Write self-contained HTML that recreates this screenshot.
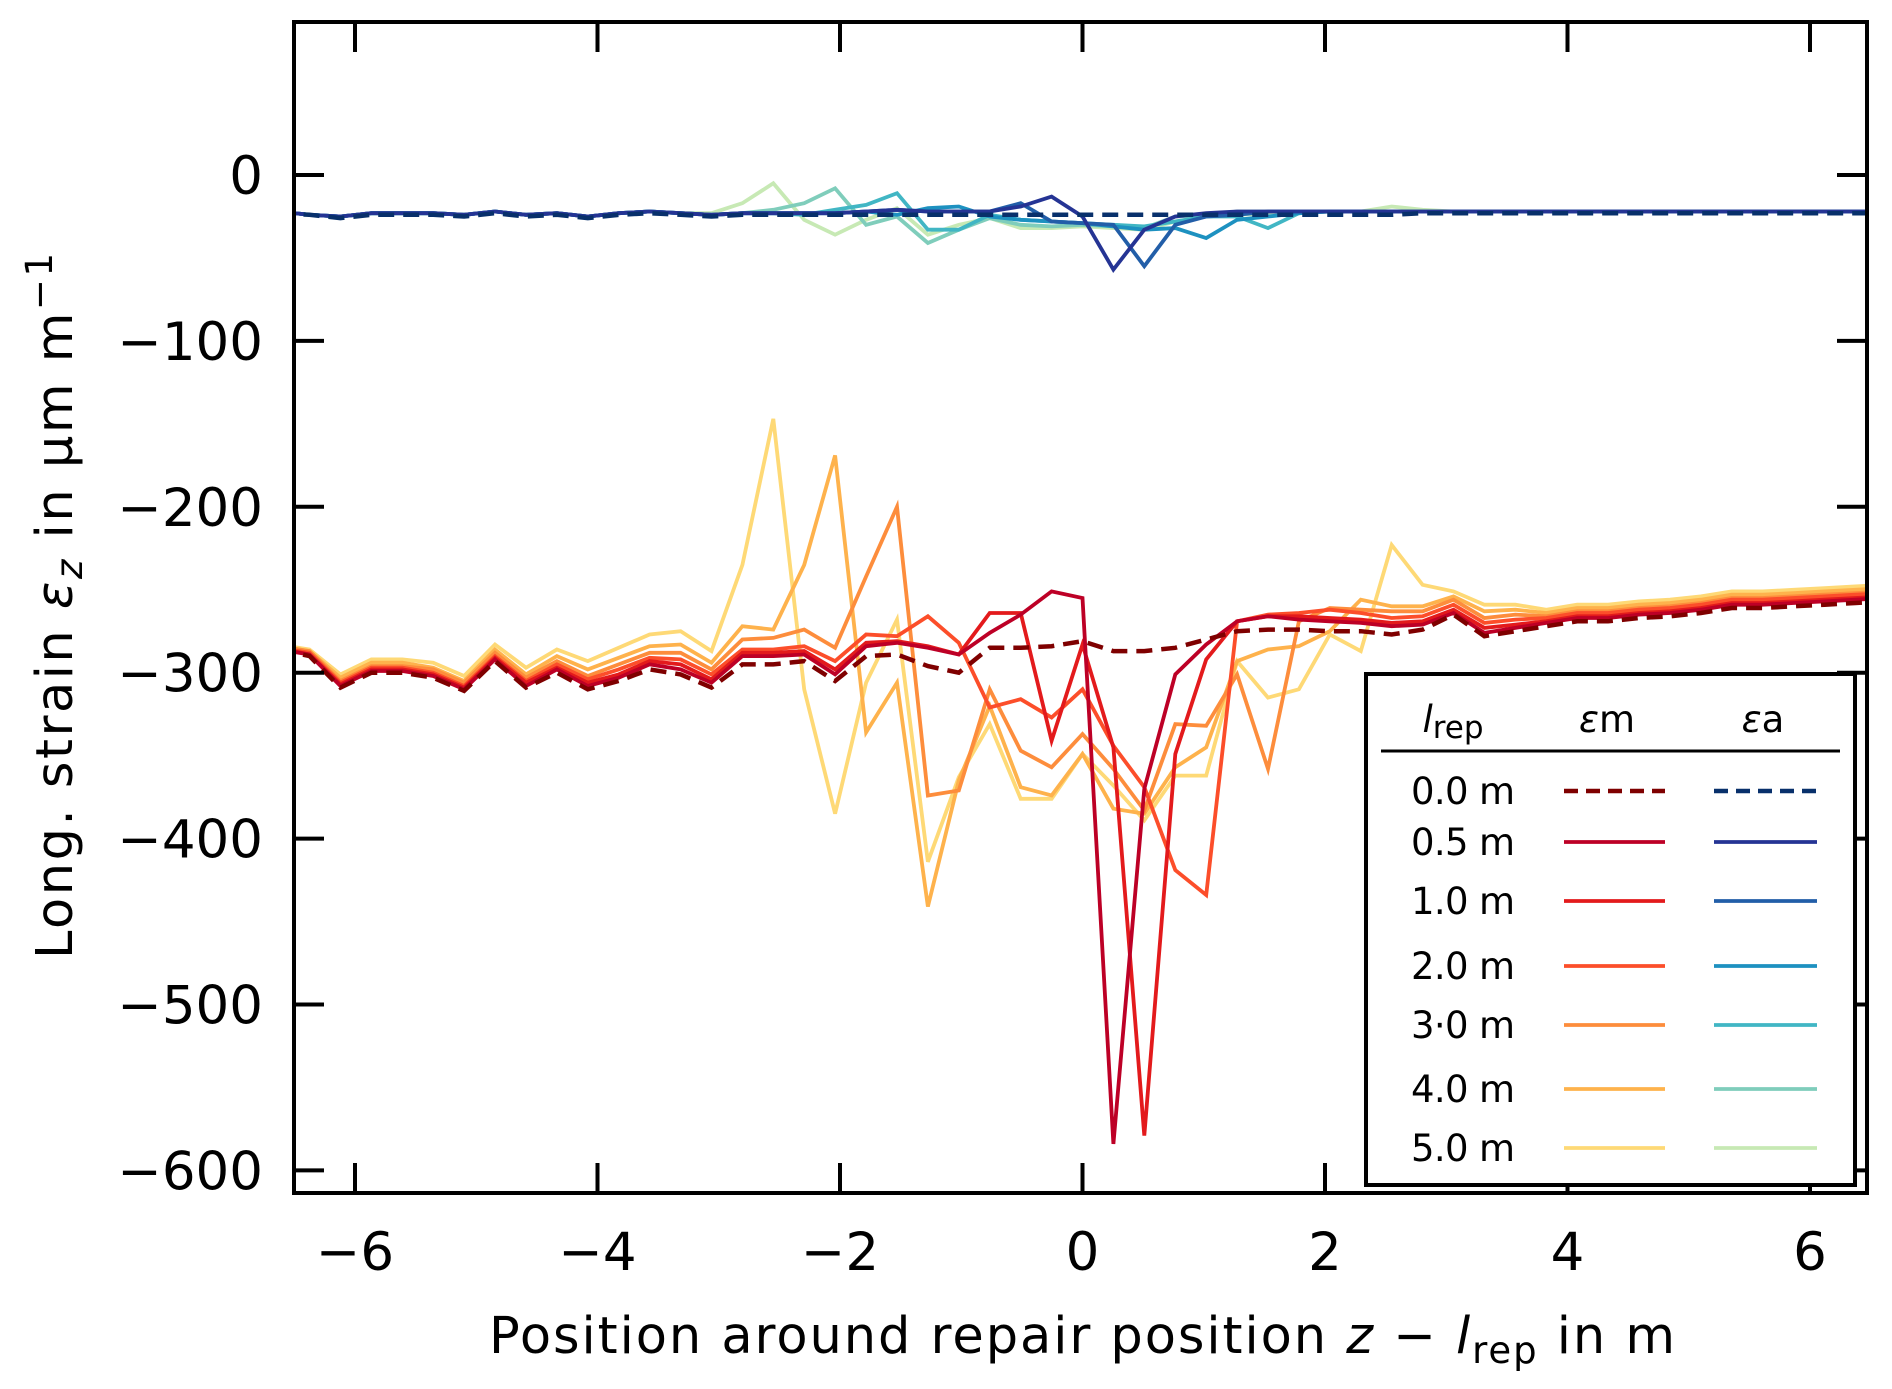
<!DOCTYPE html>
<html><head><meta charset="utf-8"><style>
html,body{margin:0;padding:0;background:#fff;}
svg{display:block;font-family:"DejaVu Sans","Liberation Sans",sans-serif;}
</style></head><body>
<svg id="chart" width="1892" height="1389" viewBox="0 0 1892 1389" xmlns="http://www.w3.org/2000/svg">
<defs><clipPath id="plotclip"><rect x="294" y="22" width="1573" height="1171"/></clipPath></defs>
<rect x="0" y="0" width="1892" height="1389" fill="#fff"/>
<g id="series" clip-path="url(#plotclip)"></g>
<g id="axes"></g>
<text x="1082" y="1353" text-anchor="middle" font-size="51" fill="#000" textLength="1186" lengthAdjust="spacing">Position around repair position <tspan font-style="italic">z</tspan> − <tspan font-style="italic">l</tspan><tspan font-size="37" dy="10">rep</tspan><tspan dy="-10"> in m</tspan></text>
<text transform="translate(72,606) rotate(-90)" text-anchor="middle" font-size="51" fill="#000" textLength="706" lengthAdjust="spacing">Long. strain <tspan font-style="italic">ε</tspan><tspan font-style="italic" font-size="37" dy="10">z</tspan><tspan dy="-10"> in μm m</tspan><tspan font-size="37" dy="-20">−1</tspan></text>
<g id="legend"></g>
</svg>
<script>
const positionsIndex = [-26,-25,-24,-23,-22,-21,-20,-19,-18,-17,-16,-15,-14,-13,-12,-11,-10,-9,-8,-7,-6,-5,-4,-3,-2,-1,0,1,2,3,4,5,6,7,8,9,10,11,12,13,14,15,16,17,18,19,20,21,22,23,24,25,26];
const positionStep = 0.255;
const xTicks = [-6,-4,-2,0,2,4,6];
const xTickLabels = ["−6","−4","−2","0","2","4","6"];
const yTicks = [0,-100,-200,-300,-400,-500,-600];
const yTickLabels = ["0","−100","−200","−300","−400","−500","−600"];
const repLabels = ["0.0 m","0.5 m","1.0 m","2.0 m","3·0 m","4.0 m","5.0 m"];

const em00 = [-286,-290,-309,-300,-300,-303,-311,-293,-309,-300,-310,-305,-298,-301,-309,-295,-295,-293,-305,-290,-289,-296,-300,-285,-285,-284,-281,-287,-287,-285,-280,-275,-274,-274,-275,-275,-277,-274,-265,-278,-275,-272,-269,-269,-267,-266,-264,-261,-261,-260,-259,-258,-257];
const em05 = [-286,-289,-308,-299,-299,-302,-310,-292,-308,-298,-308,-303,-295,-298,-306,-290,-290,-289,-301,-284,-282,-285,-289,-276,-265,-251,-255,-584,-370,-301,-283,-269,-266,-268,-269,-270,-272,-271,-264,-276,-273,-270,-267,-267,-265,-264,-262,-259,-259,-258,-257,-256,-255];
const em10 = [-285,-289,-307,-298,-298,-301,-309,-291,-306,-297,-306,-301,-293,-295,-304,-288,-288,-287,-298,-282,-281,-284,-289,-264,-264,-341,-283,-345,-579,-349,-292,-269,-266,-266,-267,-268,-270,-269,-262,-273,-271,-269,-266,-266,-264,-263,-261,-258,-258,-257,-256,-255,-254];
const em20 = [-285,-288,-306,-297,-297,-300,-308,-290,-305,-295,-304,-298,-291,-292,-301,-286,-286,-284,-293,-277,-278,-266,-282,-321,-316,-327,-310,-344,-369,-419,-434,-269,-265,-264,-262,-264,-267,-266,-259,-270,-268,-267,-264,-264,-262,-261,-259,-256,-256,-255,-254,-253,-252];
const em30 = [-284,-287,-305,-296,-296,-298,-306,-288,-303,-293,-302,-295,-288,-288,-298,-280,-279,-274,-285,-242,-200,-374,-371,-310,-347,-357,-337,-358,-383,-331,-332,-301,-358,-269,-261,-262,-263,-263,-256,-267,-265,-266,-263,-263,-261,-260,-258,-255,-255,-254,-253,-252,-251];
const em40 = [-284,-287,-303,-294,-294,-297,-305,-286,-301,-290,-298,-291,-284,-283,-294,-272,-274,-235,-169,-336,-306,-441,-365,-320,-369,-374,-349,-382,-385,-357,-345,-293,-286,-284,-275,-256,-260,-260,-254,-263,-262,-264,-261,-261,-259,-258,-256,-253,-253,-252,-251,-250,-249];
const em50 = [-283,-286,-301,-292,-292,-294,-302,-283,-297,-286,-293,-285,-277,-275,-287,-235,-147,-310,-385,-306,-268,-414,-363,-331,-376,-376,-349,-368,-389,-362,-362,-293,-315,-310,-277,-287,-223,-247,-251,-259,-259,-262,-259,-259,-257,-256,-254,-251,-251,-250,-249,-248,-247];

const ea00 = [-23,-24,-26,-24,-24,-24,-25,-23,-25,-24,-26,-24,-23,-24,-25,-24,-24,-24,-24,-24,-24,-24,-24,-24,-24,-24,-24,-24,-24,-24,-24,-24,-24,-24,-24,-24,-24,-23,-23,-23,-23,-23,-23,-23,-23,-23,-23,-23,-23,-23,-23,-23,-23];
const ea05 = [-22,-24,-25,-23,-23,-23,-24,-22,-24,-23,-25,-23,-22,-23,-24,-23,-23,-23,-23,-22,-21,-22,-22,-22,-19,-13,-25,-57,-33,-25,-23,-22,-22,-22,-22,-22,-22,-22,-22,-22,-22,-22,-22,-22,-22,-22,-22,-22,-22,-22,-22,-22,-22];
const ea10 = [-22,-24,-25,-23,-23,-23,-24,-22,-24,-23,-25,-23,-22,-23,-24,-23,-23,-23,-23,-22,-21,-22,-22,-22,-17,-28,-29,-30,-55,-30,-25,-24,-22,-22,-22,-22,-22,-22,-22,-22,-22,-22,-22,-22,-22,-22,-22,-22,-22,-22,-22,-22,-22];
const ea20 = [-22,-24,-25,-23,-23,-23,-24,-22,-24,-23,-25,-23,-22,-23,-24,-23,-23,-23,-23,-22,-24,-20,-19,-25,-27,-28,-29,-31,-33,-32,-38,-27,-25,-23,-22,-22,-22,-22,-22,-22,-22,-22,-22,-22,-22,-22,-22,-22,-22,-22,-22,-22,-22];
const ea30 = [-22,-24,-25,-23,-23,-23,-24,-22,-24,-23,-25,-23,-22,-23,-24,-23,-23,-24,-21,-18,-11,-33,-33,-24,-27,-28,-29,-30,-31,-28,-25,-25,-32,-23,-22,-22,-22,-22,-22,-22,-22,-22,-22,-22,-22,-22,-22,-22,-22,-22,-22,-22,-22];
const ea40 = [-22,-24,-25,-23,-23,-23,-24,-22,-24,-23,-25,-23,-22,-23,-24,-23,-21,-17,-8,-30,-25,-41,-33,-26,-30,-31,-30,-31,-32,-25,-24,-22,-22,-22,-22,-22,-22,-22,-22,-22,-22,-22,-22,-22,-22,-22,-22,-22,-22,-22,-22,-22,-22];
const ea50 = [-22,-24,-25,-23,-23,-23,-24,-22,-24,-23,-25,-23,-22,-23,-23,-17,-5,-27,-36,-27,-20,-36,-30,-26,-32,-32,-31,-32,-33,-28,-25,-24,-23,-23,-22,-22,-19,-21,-22,-22,-22,-22,-22,-22,-22,-22,-22,-22,-22,-22,-22,-22,-22];

const NS = "http://www.w3.org/2000/svg";
const X0 = 1082.5, XU = 121.25, Y0 = 175, YU = 1.659;
function xs(v){ return X0 + v * XU; }
function ys(v){ return Y0 - v * YU; }
function mk(tag, attrs, parent){ const e = document.createElementNS(NS, tag); for (const k in attrs) e.setAttribute(k, attrs[k]); parent.appendChild(e); return e; }

const redColors = ["#7f0000","#bd0026","#e31a1c","#fc4e2a","#fd8d3c","#feb24c","#fed976"];
const blueColors = ["#08306b","#253494","#225ea8","#1d91c0","#41b6c4","#7fcdbb","#c7e9b4"];
const emSeries = [em00, em05, em10, em20, em30, em40, em50];
const eaSeries = [ea00, ea05, ea10, ea20, ea30, ea40, ea50];
const seriesNames = ["0-0m","0-5m","1-0m","2-0m","3-0m","4-0m","5-0m"];

const g = document.getElementById("series");
function drawLine(arr, color, dashed, name){
  const n = Math.min(arr.length, positionsIndex.length);
  let d = "";
  for (let i = 0; i < n; i++){
    const px = xs(positionsIndex[i] * positionStep), py = ys(arr[i]);
    d += (i ? "L" : "M") + px.toFixed(1) + "," + py.toFixed(1);
  }
  const p = mk("path", {d: d, fill: "none", stroke: color, "stroke-width": dashed ? 4.5 : 3.8, "stroke-linejoin": "miter", "stroke-dasharray": dashed ? "16,9" : "none"}, g);
  
  
}
for (let i = 6; i >= 1; i--) drawLine(emSeries[i], redColors[i], false, "em-line-" + seriesNames[i]);
drawLine(em00, redColors[0], true, "em-line-0-0m");
for (let i = 6; i >= 1; i--) drawLine(eaSeries[i], blueColors[i], false, "ea-line-" + seriesNames[i]);
drawLine(ea00, blueColors[0], true, "ea-line-0-0m");

const ax = document.getElementById("axes");
const frame = mk("rect", {x: 294, y: 22, width: 1573, height: 1171, fill: "none", stroke: "#000", "stroke-width": 4}, ax);


xTicks.forEach((t, i) => {
  const px = xs(t);
  const t1 = mk("line", {x1: px, y1: 1193, x2: px, y2: 1163, stroke: "#000", "stroke-width": 4}, ax);
  
  
  const t2 = mk("line", {x1: px, y1: 22, x2: px, y2: 52, stroke: "#000", "stroke-width": 4}, ax);
  
  
  const lb = mk("text", {x: px, y: 1270, "text-anchor": "middle", "font-size": 53, fill: "#000"}, ax);
  lb.textContent = xTickLabels[i];
  
  
});
yTicks.forEach((t, i) => {
  const py = ys(t);
  const t1 = mk("line", {x1: 294, y1: py, x2: 324, y2: py, stroke: "#000", "stroke-width": 4}, ax);
  
  
  const t2 = mk("line", {x1: 1867, y1: py, x2: 1837, y2: py, stroke: "#000", "stroke-width": 4}, ax);
  
  
  const lb = mk("text", {x: 263, y: py + 19, "text-anchor": "end", "font-size": 53, fill: "#000"}, ax);
  lb.textContent = yTickLabels[i];
  
  
});

const lg = document.getElementById("legend");
const box = mk("rect", {x: 1366, y: 674, width: 489, height: 511, fill: "#fff", stroke: "#000", "stroke-width": 4}, lg);


const h1 = mk("text", {x: 1453, y: 732, "text-anchor": "middle", "font-size": 37, fill: "#000"}, lg);
h1.innerHTML = '<tspan font-style="italic">l</tspan><tspan font-size="31" dy="6">rep</tspan>';


const h2 = mk("text", {x: 1607, y: 732, "text-anchor": "middle", "font-size": 37, fill: "#000"}, lg);
h2.innerHTML = '<tspan font-style="italic">ε</tspan>m';


const h3 = mk("text", {x: 1763, y: 732, "text-anchor": "middle", "font-size": 37, fill: "#000"}, lg);
h3.innerHTML = '<tspan font-style="italic">ε</tspan>a';


const hl = mk("line", {x1: 1381, y1: 751, x2: 1840, y2: 751, stroke: "#000", "stroke-width": 3}, lg);


const rowY = [791, 842, 901, 966, 1025, 1089, 1148];
repLabels.forEach((lab, i) => {
  const y = rowY[i];
  const t = mk("text", {x: 1411, y: y + 13, "font-size": 37, fill: "#000", textLength: 104, lengthAdjust: "spacing"}, lg);
  t.textContent = lab;
  
  
  const l1 = mk("line", {x1: 1564, y1: y, x2: 1665, y2: y, stroke: redColors[i], "stroke-width": i ? 3.8 : 4.5, "stroke-dasharray": i ? "none" : "14,8"}, lg);
  
  
  const l2 = mk("line", {x1: 1714, y1: y, x2: 1817, y2: y, stroke: blueColors[i], "stroke-width": i ? 3.8 : 4.5, "stroke-dasharray": i ? "none" : "14,8"}, lg);
  
  
});
</script>
</body></html>
